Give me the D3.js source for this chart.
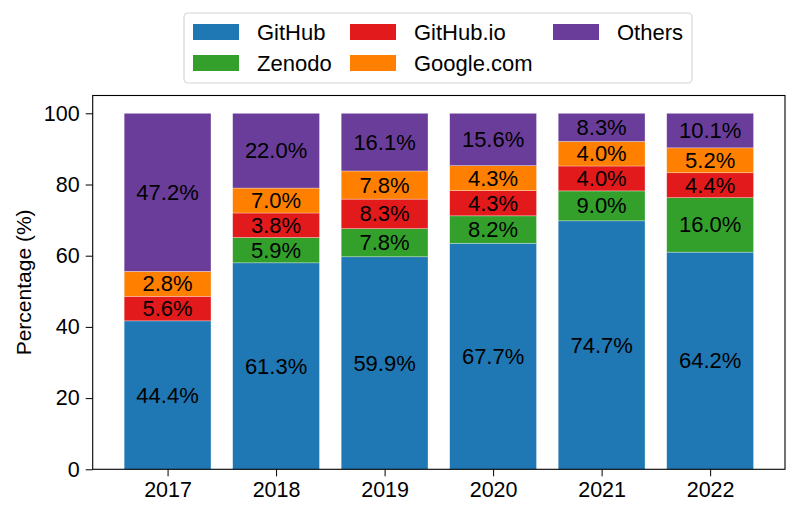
<!DOCTYPE html>
<html>
<head>
<meta charset="utf-8">
<script src="https://cdn.jsdelivr.net/npm/d3@7"></script>
<style>
  body { margin: 0; background: #fff; }
  svg { font-family: "Liberation Sans", Arial, sans-serif; }
</style>
</head>
<body>
<div id="chart"></div>
<script>
// Categories and series
const years = ["2017", "2018", "2019", "2020", "2021", "2022"];
const seriesNames = ["GitHub", "Zenodo", "GitHub.io", "Google.com", "Others"];
const seriesColors = ["#1f78b4", "#33a02c", "#e31a1c", "#ff7f00", "#6a3d9a"];

// Segment heights as drawn (percent)
const githubHeights = [41.7, 58.0, 59.7, 63.5, 69.8, 61.0];
const zenodoHeights = [0, 7.1, 7.9, 7.7, 8.4, 15.3];
const githubIoHeights = [6.9, 6.9, 8.3, 7.1, 7.0, 7.0];
const googleHeights = [7.0, 7.0, 7.9, 7.0, 6.9, 7.0];
const othersHeights = [44.4, 21.0, 16.2, 14.7, 7.9, 9.7];

// Labels printed on the segments
const githubLabels = [44.4, 61.3, 59.9, 67.7, 74.7, 64.2];
const zenodoLabels = [null, 5.9, 7.8, 8.2, 9.0, 16.0];
const githubIoLabels = [5.6, 3.8, 8.3, 4.3, 4.0, 4.4];
const googleLabels = [2.8, 7.0, 7.8, 4.3, 4.0, 5.2];
const othersLabels = [47.2, 22.0, 16.1, 15.6, 8.3, 10.1];

const yTicks = [0, 20, 40, 60, 80, 100];

const heights = [githubHeights, zenodoHeights, githubIoHeights, googleHeights, othersHeights];
const labels = [githubLabels, zenodoLabels, githubIoLabels, googleLabels, othersLabels];

const W = 798, H = 517;
const margin = {top: 95.5, right: 13, bottom: 47.7, left: 92.7};
const width = W - margin.left - margin.right;
const height = H - margin.top - margin.bottom;

const svg = d3.select("#chart").append("svg")
    .attr("width", W)
    .attr("height", H);

const g = svg.append("g")
    .attr("transform", `translate(${margin.left},${margin.top})`);

const x = d3.scaleLinear().domain([-0.69, 5.69]).range([0, width]);
const y = d3.scaleLinear().domain([0, 105]).range([height, 0]);
const barW = x(0.8) - x(0);

// Build stacked rows
const table = years.map((yr, i) => {
    const row = {year: yr, idx: i};
    seriesNames.forEach((s, k) => { row[s] = heights[k][i]; });
    return row;
});
const stacked = d3.stack().keys(seriesNames)(table);

stacked.forEach((layer, k) => {
    const lg = g.append("g");
    lg.selectAll("rect")
        .data(layer)
        .enter()
        .append("rect")
        .attr("x", d => x(d.data.idx) - barW / 2)
        .attr("width", barW)
        .attr("y", d => y(d[1]))
        .attr("height", d => y(d[0]) - y(d[1]))
        .attr("fill", seriesColors[k])
        .attr("stroke", "#fff")
        .attr("stroke-opacity", 0.5)
        .attr("stroke-width", 0.6);

    lg.selectAll("text")
        .data(layer.filter(d => labels[k][d.data.idx] != null))
        .enter()
        .append("text")
        .attr("x", d => x(d.data.idx))
        .attr("y", d => y((d[0] + d[1]) / 2))
        .attr("text-anchor", "middle")
        .attr("dominant-baseline", "central")
        .style("font-size", "22px")
        .attr("fill", "#000")
        .text(d => labels[k][d.data.idx].toFixed(1) + "%");
});

// Axes
const yAxis = g.append("g")
    .call(d3.axisLeft(y).tickValues(yTicks).tickSize(7).tickPadding(6));
yAxis.select(".domain").remove();
yAxis.selectAll("text").style("font-size", "21.5px").attr("fill", "#000");

const xAxis = g.append("g")
    .attr("transform", `translate(0,${height})`)
    .call(d3.axisBottom(x).tickValues(d3.range(years.length)).tickFormat(i => years[i]).tickSize(7).tickPadding(5));
xAxis.select(".domain").remove();
xAxis.selectAll("text").style("font-size", "21.5px").attr("fill", "#000");

// Frame
g.append("rect")
    .attr("width", width)
    .attr("height", height)
    .attr("fill", "none")
    .attr("stroke", "#000")
    .attr("stroke-width", 1.1);

// Y label
svg.append("text")
    .attr("transform", `translate(23,${margin.top + height / 2}) rotate(-90)`)
    .attr("text-anchor", "middle")
    .attr("dominant-baseline", "central")
    .style("font-size", "21px")
    .text("Percentage (%)");

// Legend
const legend = svg.append("g").attr("transform", "translate(184,13)");
legend.append("rect")
    .attr("width", 508)
    .attr("height", 70)
    .attr("rx", 4)
    .attr("fill", "#fff")
    .attr("stroke", "#d6d6d6")
    .attr("stroke-width", 1.2);

const colX = [9, 166, 369];
const rowY = [19, 50];
seriesNames.forEach((s, k) => {
    const col = Math.floor(k / 2), row = k % 2;
    const item = legend.append("g")
        .attr("transform", `translate(${colX[col]},${rowY[row]})`);
    item.append("rect")
        .attr("x", 0).attr("y", -8)
        .attr("width", 46).attr("height", 16)
        .attr("fill", seriesColors[k]);
    item.append("text")
        .attr("x", 64).attr("y", 0)
        .attr("dominant-baseline", "central")
        .style("font-size", "22px")
        .text(s);
});
</script>
</body>
</html>
